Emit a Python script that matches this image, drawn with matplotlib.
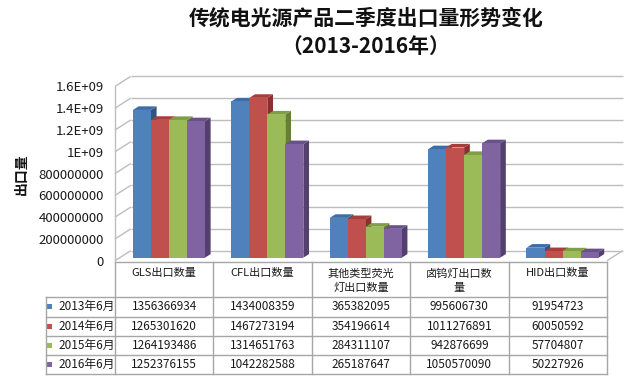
"""
Export volume of traditional light sources, Q2 2013-2016.
Excel-style 3D column chart with a data table underneath.
"""

import matplotlib
matplotlib.use("Agg")
import matplotlib.pyplot as plt
from matplotlib.lines import Line2D
from matplotlib.patches import Polygon, Rectangle

plt.rcParams["font.family"] = ["Noto Sans CJK SC", "DejaVu Sans"]

TITLE = "传统电光源产品二季度出口量形势变化"
SUBTITLE = "（2013-2016年）"
Y_LABEL = "出口量"

CATEGORIES = ["GLS出口数量", "CFL出口数量", "其他类型荧光\n灯出口数量",
              "卤钨灯出口数\n量", "HID出口数量"]
SERIES = ["2013年6月", "2014年6月", "2015年6月", "2016年6月"]

V2013 = [1356366934, 1434008359, 365382095, 995606730, 91954723]
V2014 = [1265301620, 1467273194, 354196614, 1011276891, 60050592]
V2015 = [1264193486, 1314651763, 284311107, 942876699, 57704807]
V2016 = [1252376155, 1042282588, 265187647, 1050570090, 50227926]
VALUES = [V2013, V2014, V2015, V2016]

Y_TICKS = [0, 2e8, 4e8, 6e8, 8e8, 1e9, 1.2e9, 1.4e9, 1.6e9]
Y_TICK_LABELS = ["0", "200000000", "400000000", "600000000", "800000000",
                 "1E+09", "1.2E+09", "1.4E+09", "1.6E+09"]

FRONT = ["#4F81BD", "#C0504D", "#9BBB59", "#8064A2"]
TOP   = ["#3E6DA6", "#A53F3C", "#7F9E45", "#69528A"]
SIDE  = ["#2F5582", "#88312F", "#667F36", "#53406E"]

GRID = "#BDBDBD"
TABLE_LINE = "#A6A6A6"
TEXT = "#1A1A1A"

# ── geometry (pixels, 640x380 canvas) ──────────────────────────────────────────
W, H = 640, 380
LEFT_PX, ZERO_PX, TOP_PX = 115.0, 260.7, 86.4   # front plane of the plot box
COL_PX = 98.4
UX = COL_PX                      # px per category unit
UY = (ZERO_PX - TOP_PX) / 1.6e9  # px per value unit
DEPTH = (15.7 / UX, 10.0 / UY)   # front plane -> back wall
BAR_PLANE = 0.3                  # where the bar fronts sit inside the depth
BAR_DEPTH = (5.7 / UX, 3.6 / UY)
BAR_W = 0.183


def fx(px):
    return px / W


def fy(py):
    return 1 - py / H


fig = plt.figure(figsize=(6.4, 3.8), dpi=100)
ax = fig.add_axes([fx(LEFT_PX), fy(ZERO_PX), 5 * COL_PX / W,
                   (ZERO_PX - TOP_PX) / H])
ax.set_xlim(-0.5, 4.5)
ax.set_ylim(0, 1.6e9)
for s in ax.spines.values():
    s.set_visible(False)
ax.set_xticks([])
ax.set_yticks(Y_TICKS)
ax.set_yticklabels(Y_TICK_LABELS, fontsize=9.5, color=TEXT)
ax.tick_params(axis="y", length=0, pad=8)

dx, dy = DEPTH
line_kw = dict(color=GRID, lw=1.0, clip_on=False, zorder=1,
               solid_capstyle="butt")

# back wall gridlines and left wall
for t in Y_TICKS:
    ax.plot([-0.5 + dx, 4.5 + dx], [t + dy, t + dy], **line_kw)
    ax.plot([-0.5, -0.5 + dx], [t, t + dy], **line_kw)
ax.plot([-0.5, -0.5], [0, 1.6e9], **line_kw)
# floor right edge
ax.plot([4.5, 4.5 + dx], [0, dy], **line_kw)

# bars (front face + top + side)
ox, oy = BAR_PLANE * dx, BAR_PLANE * dy
bx, by = BAR_DEPTH
for c in range(len(CATEGORIES)):
    for i, vals in enumerate(VALUES):
        v = vals[c]
        x0 = c + (i - 2) * BAR_W + ox
        x1 = x0 + BAR_W
        y0, y1 = oy, oy + v
        z = 3 + c * 10 + i
        ax.add_patch(Polygon([(x1, y0), (x1, y1), (x1 + bx, y1 + by),
                              (x1 + bx, y0 + by)], closed=True,
                             facecolor=SIDE[i], lw=0, zorder=z, clip_on=False))
        ax.add_patch(Polygon([(x0, y1), (x1, y1), (x1 + bx, y1 + by),
                              (x0 + bx, y1 + by)], closed=True,
                             facecolor=TOP[i], lw=0, zorder=z, clip_on=False))
        ax.bar(x0, v, bottom=y0, width=BAR_W, align="edge",
               color=FRONT[i], lw=0, zorder=z + 0.5, clip_on=False)

# ── titles ─────────────────────────────────────────────────────────────────────
fig.text(fx(366), fy(18), TITLE, ha="center", va="center",
         fontsize=15, fontweight="bold", color="#111111")
fig.text(fx(366), fy(46), SUBTITLE, ha="center", va="center",
         fontsize=15, fontweight="bold", color="#111111")
fig.text(fx(22), fy(174), Y_LABEL, ha="center", va="center", rotation=90,
         fontsize=10, fontweight="bold", color="#111111")

# ── data table ─────────────────────────────────────────────────────────────────
TABLE_TOP = ZERO_PX + 0.8
HEADER_BOTTOM = 297.3
ROW_H = 19.25
LEG_LEFT = 46.0
col_edges = [LEFT_PX + k * COL_PX for k in range(len(CATEGORIES) + 1)]
table_bottom = HEADER_BOTTOM + ROW_H * len(SERIES)


def hline(x0, x1, y):
    fig.add_artist(Line2D([fx(x0), fx(x1)], [fy(y), fy(y)],
                          color=TABLE_LINE, lw=1.0, transform=fig.transFigure))


def vline(x, y0, y1):
    fig.add_artist(Line2D([fx(x), fx(x)], [fy(y0), fy(y1)],
                          color=TABLE_LINE, lw=1.0, transform=fig.transFigure))


hline(col_edges[0], col_edges[-1], TABLE_TOP)
for r in range(len(SERIES) + 1):
    hline(LEG_LEFT, col_edges[-1], HEADER_BOTTOM + r * ROW_H)
for xe in col_edges:
    vline(xe, TABLE_TOP, table_bottom)
vline(LEG_LEFT, HEADER_BOTTOM, table_bottom)

for c, name in enumerate(CATEGORIES):
    xc = (col_edges[c] + col_edges[c + 1]) / 2
    for k, part in enumerate(name.split("\n")):
        fig.text(fx(xc), fy(273.3 + 15 * k), part, ha="center", va="center",
                 fontsize=8, color=TEXT)

for r, (label, vals) in enumerate(zip(SERIES, VALUES)):
    yc = HEADER_BOTTOM + (r + 0.5) * ROW_H
    fig.add_artist(Rectangle((fx(47), fy(yc + 2.5)), 5 / W, 5 / H,
                             facecolor=FRONT[r], lw=0,
                             transform=fig.transFigure))
    fig.text(fx(58), fy(yc), label, ha="left", va="center",
             fontsize=8.5, color=TEXT)
    for c, v in enumerate(vals):
        xc = (col_edges[c] + col_edges[c + 1]) / 2
        fig.text(fx(xc), fy(yc), f"{v}", ha="center", va="center",
                 fontsize=8.5, color=TEXT)

fig.savefig("out.png", dpi=100)
plt.close(fig)
